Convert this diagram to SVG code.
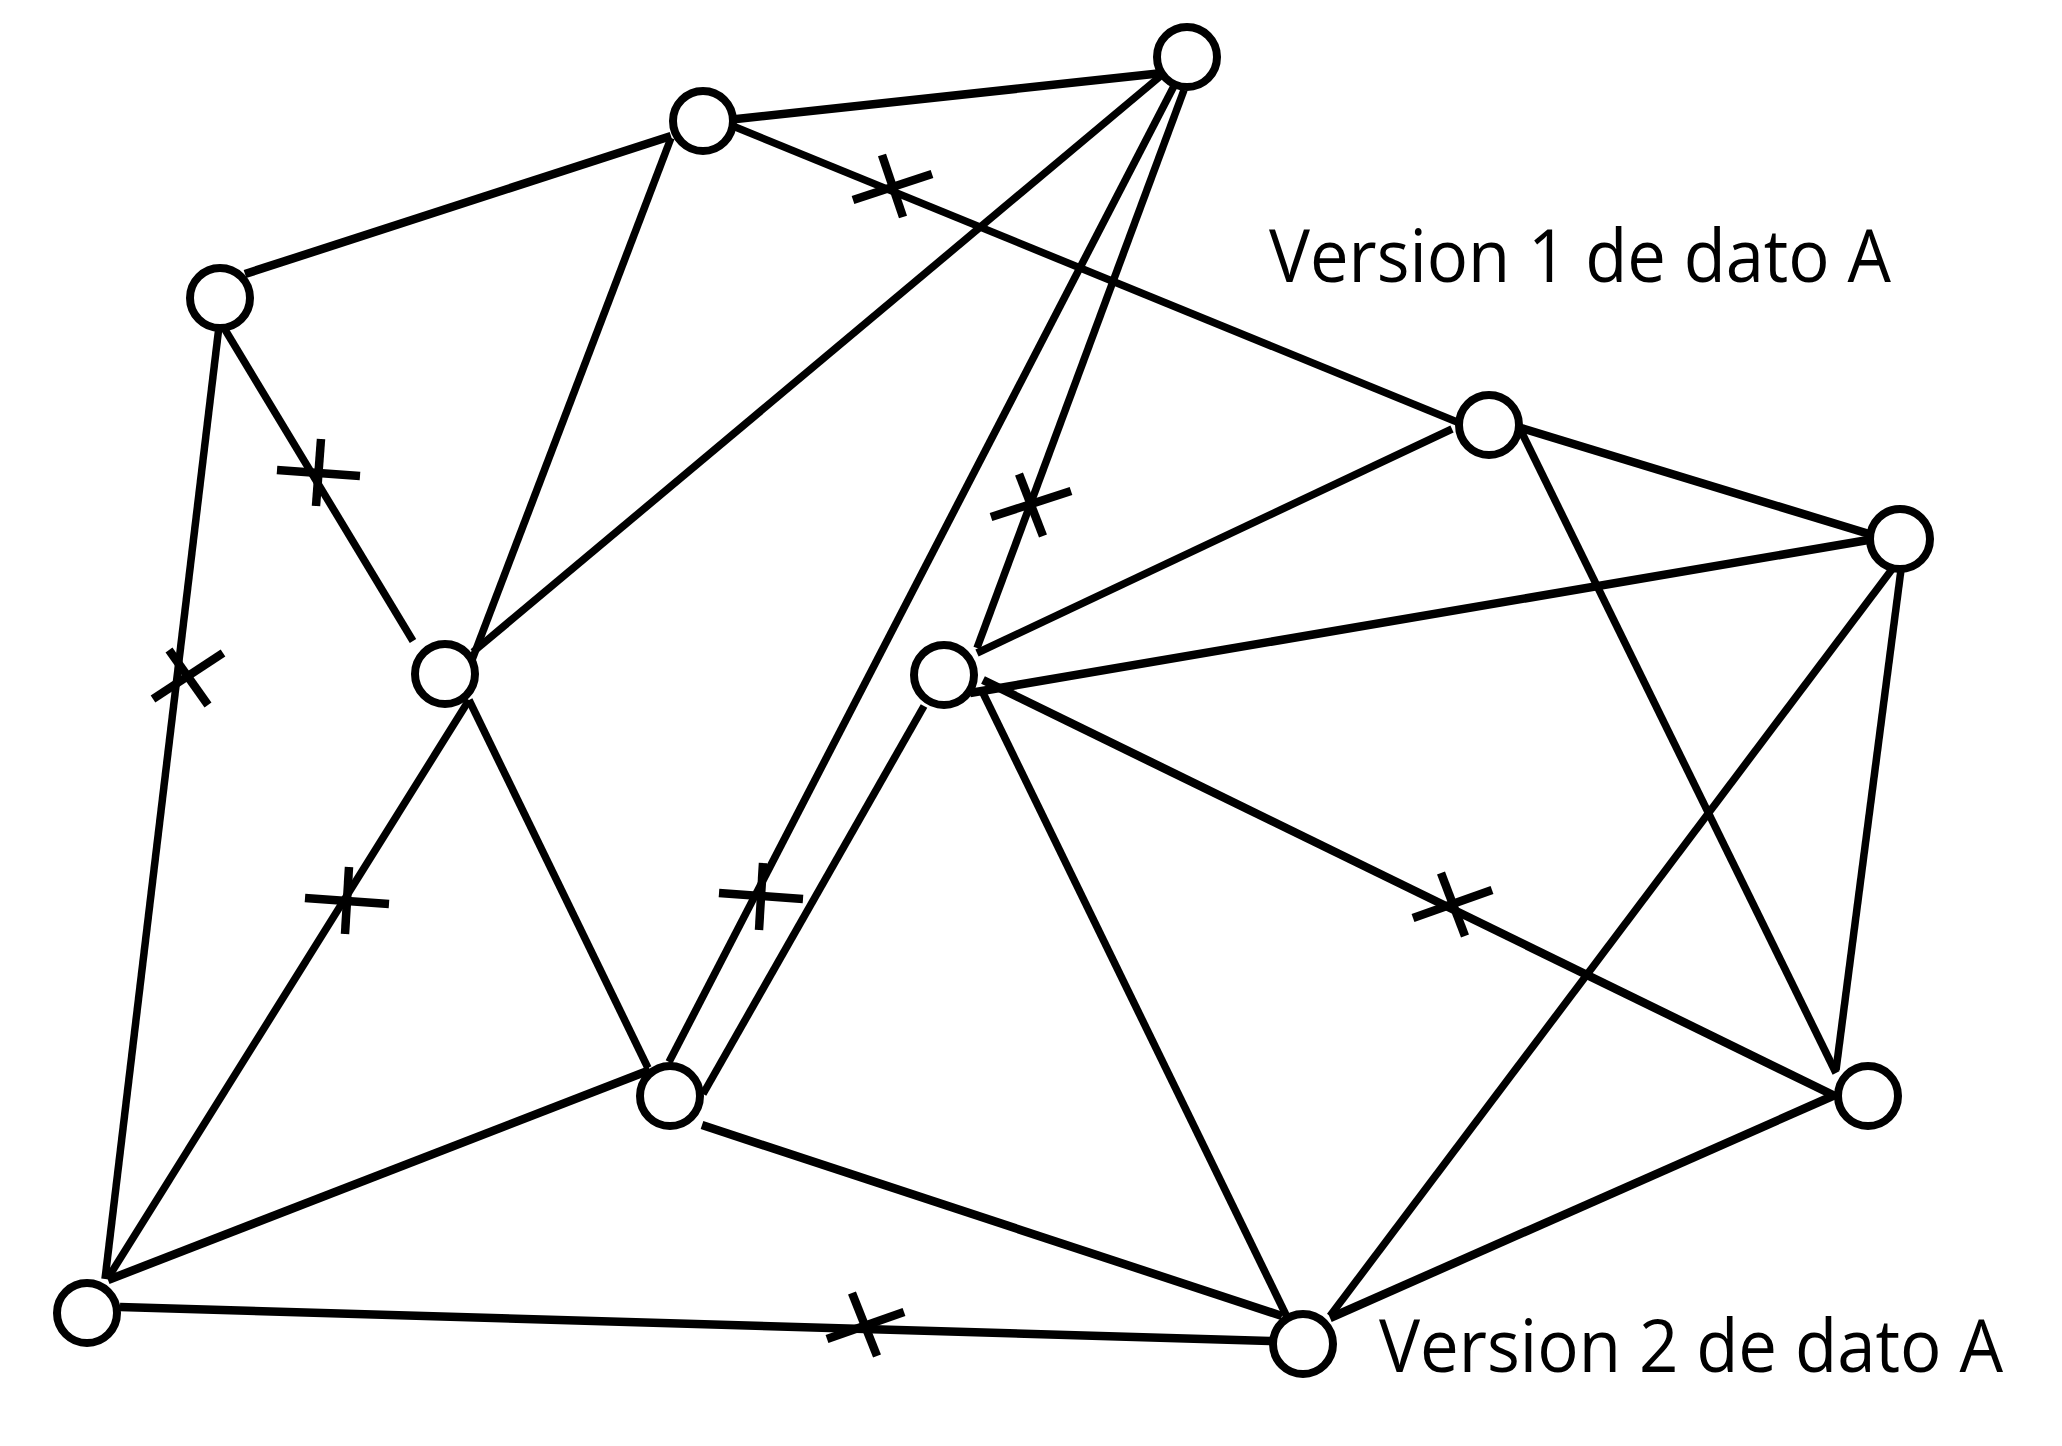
<svg xmlns="http://www.w3.org/2000/svg" width="2062" height="1446" viewBox="0 0 2062 1446">
<style>
.n{fill:#fff;stroke:#000;stroke-width:8}
.e{stroke:#000;stroke-width:7.5;fill:none;stroke-linecap:butt}
.k{stroke-width:8.5}
.t{stroke:#000;stroke-width:8.5;fill:none}
.lbl{font-family:"Open Sans","Noto Sans",sans-serif;font-size:74px;fill:#000}
</style>
<rect width="2062" height="1446" fill="#fff"/>
<g id="connectors">
<line class="e k" x1="245" y1="274" x2="671" y2="136"/>
<line class="e k" x1="718" y1="121" x2="1172" y2="72"/>
<line class="e" x1="723" y1="122" x2="1462" y2="424"/>
<line class="e" x1="671" y1="138" x2="472" y2="660"/>
<line class="e" x1="218" y1="318" x2="413" y2="641"/>
<line class="e" x1="220" y1="318" x2="105" y2="1279"/>
<line class="e" x1="473" y1="652" x2="1163" y2="74"/>
<line class="e" x1="469" y1="700" x2="108" y2="1278"/>
<line class="e" x1="469" y1="700" x2="648" y2="1068"/>
<line class="e" x1="1174" y1="86" x2="669" y2="1062"/>
<line class="e" x1="1184" y1="90" x2="977" y2="648"/>
<line class="e" x1="924" y1="706" x2="703" y2="1094"/>
<line class="e" x1="977" y1="653" x2="1452" y2="429"/>
<line class="e k" x1="970" y1="693" x2="1874" y2="539"/>
<line class="e k" x1="983" y1="680" x2="1835" y2="1096"/>
<line class="e" x1="983" y1="693" x2="1287" y2="1317"/>
<line class="e k" x1="1521" y1="428" x2="1879" y2="537"/>
<line class="e" x1="1521" y1="431" x2="1836" y2="1073"/>
<line class="e" x1="1899" y1="560" x2="1330" y2="1316"/>
<line class="e" x1="1902" y1="562" x2="1836" y2="1070"/>
<line class="e k" x1="1835" y1="1095" x2="1330" y2="1318"/>
<line class="e k" x1="702" y1="1125" x2="1282" y2="1316"/>
<line class="e k" x1="650" y1="1070" x2="108" y2="1280"/>
<line class="e k" x1="120" y1="1307" x2="1270" y2="1341"/>
</g>
<g id="ticks">
<line class="t" x1="853" y1="200" x2="932" y2="174"/>
<line class="t" x1="882" y1="155" x2="903" y2="217"/>
<line class="t" x1="277" y1="470" x2="360" y2="476"/>
<line class="t" x1="321" y1="439" x2="316" y2="506"/>
<line class="t" x1="153" y1="699" x2="223" y2="653"/>
<line class="t" x1="169" y1="650" x2="208" y2="705"/>
<line class="t" x1="305" y1="898" x2="389" y2="904"/>
<line class="t" x1="349" y1="867" x2="345" y2="934"/>
<line class="t" x1="719" y1="893" x2="803" y2="899"/>
<line class="t" x1="763" y1="863" x2="759" y2="930"/>
<line class="t" x1="991" y1="517" x2="1071" y2="491"/>
<line class="t" x1="1019" y1="474" x2="1043" y2="536"/>
<line class="t" x1="1413" y1="918" x2="1492" y2="890"/>
<line class="t" x1="1441" y1="873" x2="1465" y2="936"/>
<line class="t" x1="827" y1="1339" x2="904" y2="1312"/>
<line class="t" x1="852" y1="1293" x2="877" y2="1356"/>
</g>
<g id="nodeA"><circle class="n" cx="703" cy="121" r="30"/></g>
<g id="nodeB"><circle class="n" cx="220" cy="298" r="30"/></g>
<g id="nodeC"><circle class="n" cx="445" cy="674" r="30"/></g>
<g id="nodeD"><circle class="n" cx="944" cy="675" r="30"/></g>
<g id="nodeE"><circle class="n" cx="1187" cy="57" r="30"/></g>
<g id="nodeF"><circle class="n" cx="1489" cy="425" r="30"/></g>
<g id="nodeG"><circle class="n" cx="1900" cy="539" r="30"/></g>
<g id="nodeH"><circle class="n" cx="87" cy="1313" r="30"/></g>
<g id="nodeI"><circle class="n" cx="670" cy="1096" r="30"/></g>
<g id="nodeJ"><circle class="n" cx="1868" cy="1096" r="30"/></g>
<g id="nodeK"><circle class="n" cx="1303" cy="1344" r="30"/></g>
<g id="labels">
<text class="lbl" x="1269" y="282" textLength="622" lengthAdjust="spacingAndGlyphs">Version 1 de dato A</text>
<text class="lbl" x="1379" y="1372" textLength="624" lengthAdjust="spacingAndGlyphs">Version 2 de dato A</text>
</g>
</svg>
